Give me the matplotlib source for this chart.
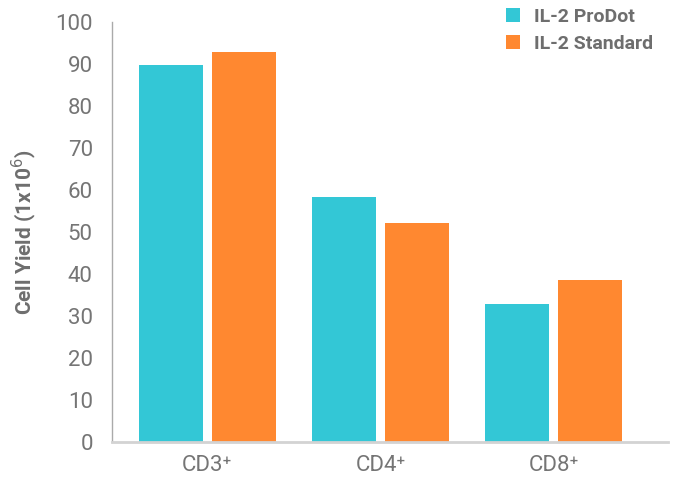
import matplotlib.pyplot as plt
import numpy as np

# data
categories = ["CD3⁺", "CD4⁺", "CD8⁺"]
prodot = [89.8, 58.3, 32.9]
standard = [92.9, 52.1, 38.6]

COLORS = {"prodot": "#33C7D6", "standard": "#FF8830"}
TEXT_GRAY = "#6E6E6E"

plt.rcParams["font.family"] = ["Roboto", "DejaVu Sans"]

fig = plt.figure(figsize=(6.76, 4.8), dpi=100)
ax = fig.add_axes([0.166, 0.079, 0.822, 0.875])

x = np.arange(len(categories))
w = 0.37
ax.bar(x - 0.21, prodot, w, color=COLORS["prodot"], label="IL-2 ProDot")
ax.bar(x + 0.21, standard, w, color=COLORS["standard"], label="IL-2 Standard")

ax.set_xlim(-0.55, 2.66)
ax.set_ylim(0, 100)
ax.set_yticks(range(0, 101, 10))
ax.set_xticks(x)
ax.set_xticklabels(categories)

for lab in ax.get_xticklabels() + ax.get_yticklabels():
    lab.set_color("#757575")
    lab.set_fontsize(16)
    lab.set_fontweight("normal")

ax.tick_params(length=0, pad=9)
ax.tick_params(axis="y", pad=14)

for s in ["top", "right"]:
    ax.spines[s].set_visible(False)
ax.spines["left"].set_color("#AAAAAA")
ax.spines["left"].set_linewidth(1)
ax.spines["bottom"].set_color("#D3D3D3")
ax.spines["bottom"].set_linewidth(2)

ax.set_ylabel("Cell Yield (1x10$^{6}$)", fontsize=15, fontweight="bold",
              color=TEXT_GRAY, labelpad=12)

leg = ax.legend(loc="upper right", bbox_to_anchor=(1.005, 1.075), frameon=False,
                handlelength=0.75, handleheight=0.75, handletextpad=0.7,
                labelspacing=0.45, prop={"size": 14, "weight": "bold"})
for t in leg.get_texts():
    t.set_color(TEXT_GRAY)

fig.savefig("out.png", dpi=100)
